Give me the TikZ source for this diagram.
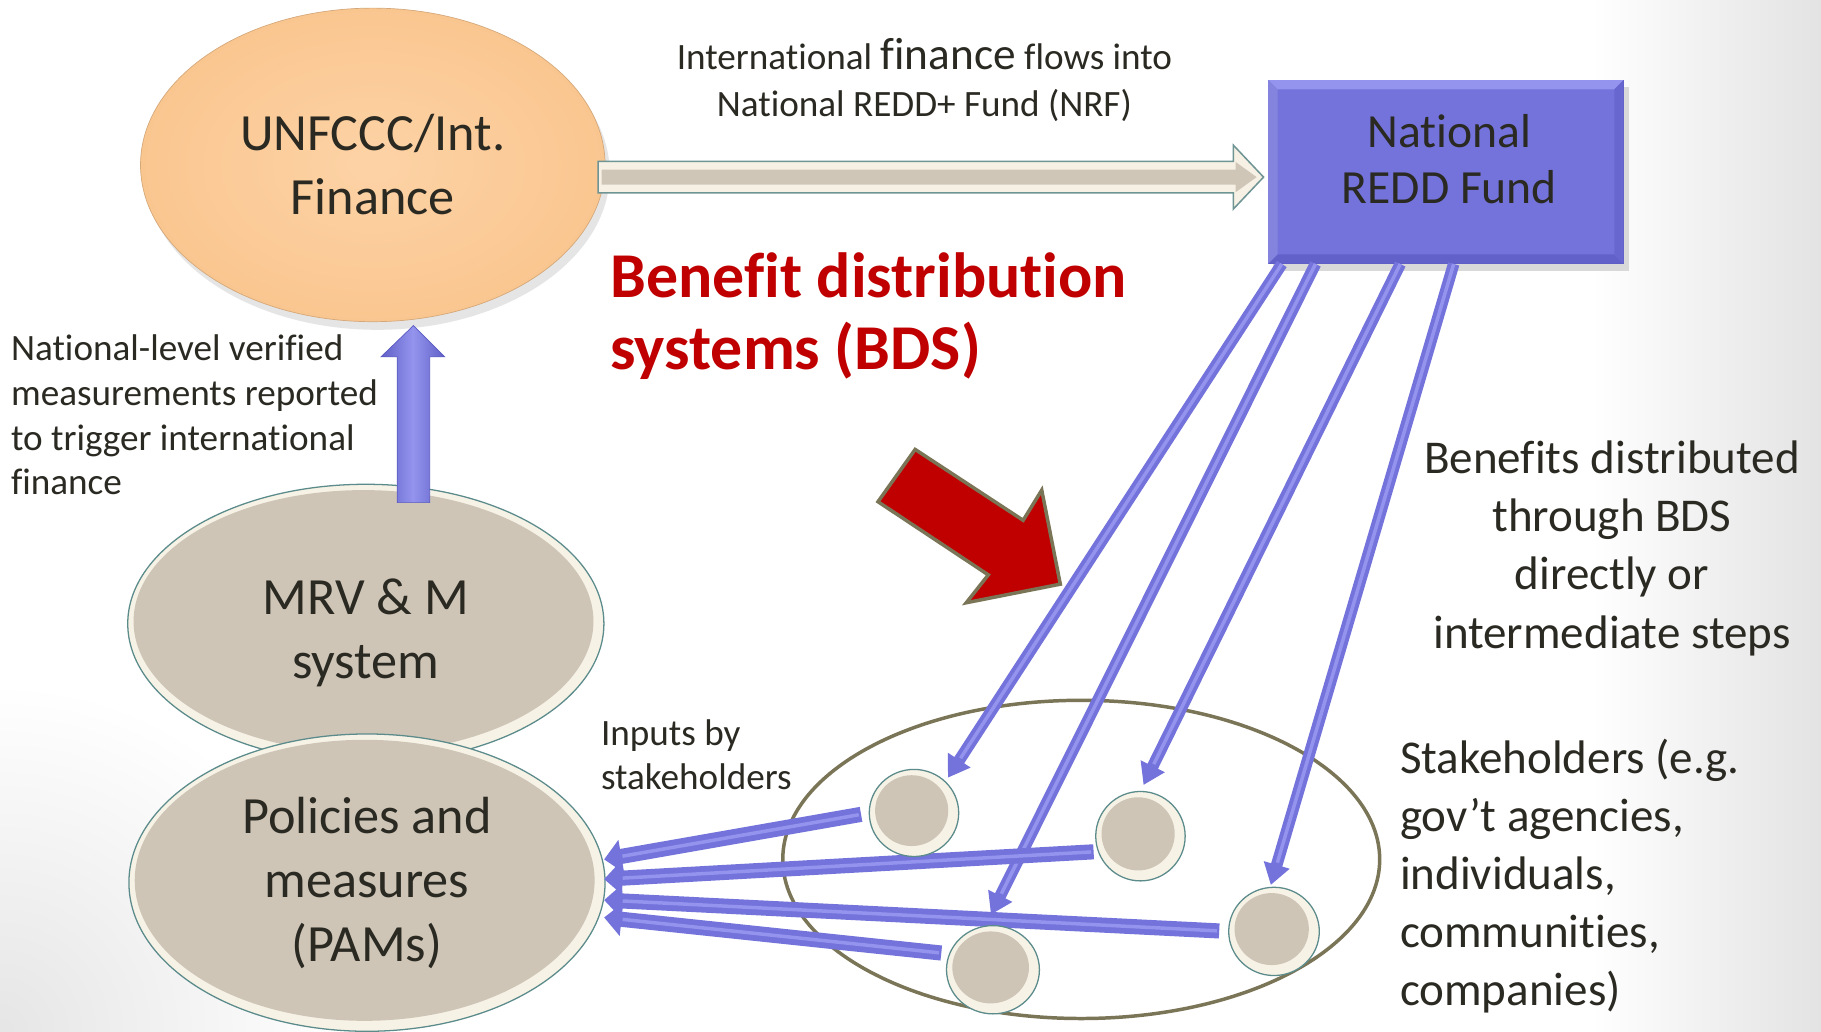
\documentclass[tikz,border=0pt]{standalone}
\usepackage{fontspec}
\setmainfont{Carlito}[Ligatures=NoCommon]
\usetikzlibrary{shapes.geometric,arrows.meta,calc}
\definecolor{txt}{HTML}{2A2922}
\definecolor{stan}{HTML}{CEC5B7}
\definecolor{rim}{HTML}{F7F2E6}
\definecolor{edgeteal}{HTML}{5B8B8B}
\definecolor{peachin}{HTML}{FDD3A6}
\definecolor{peachout}{HTML}{FAC690}
\definecolor{fundblue}{HTML}{7373DB}
\definecolor{fundlight}{HTML}{9494EE}
\definecolor{funddark}{HTML}{5A5AC2}
\definecolor{bdsred}{HTML}{C00000}
\definecolor{olivedge}{HTML}{7A7557}
\definecolor{cream}{HTML}{F7F0E4}
\definecolor{beige}{HTML}{CFC6B8}
\definecolor{arrowedge}{HTML}{6F9494}
\newcommand\bevelell[7]{%
  \fill[rim] (#2,#3) ellipse ({#4} and {#5});
  \fill[stan] ({#2-2},{#3-2}) ellipse ({#4-7} and {#5-7});
  \draw[edgeteal, line width=1.1pt] (#2,#3) ellipse ({#4} and {#5});
  \node[ellipse, inner sep=0pt, minimum width={2*#4}, minimum height={2*#5}, align=center, text=txt, font=#6] (#1) at (#2,#3) {#7};
}
\begin{document}
\begin{tikzpicture}[x=1pt,y=-1pt,
  distarrow/.style={line width=10pt, draw=fundblue, -{Triangle[width=22pt,length=18pt]}},
  inarrow/.style={line width=13pt, draw=fundblue, -{Triangle[width=28pt,length=15pt]}},
  hl/.style={line width=3pt, draw=fundlight},
  bigtxt/.style={font=\fontsize{45}{55}\selectfont, text=txt, align=center},
  smalltxt/.style={font=\fontsize{32}{38.5}\selectfont, text=txt},
  midtxt/.style={font=\fontsize{40.5}{50}\selectfont, text=txt}]
\useasboundingbox (0,0) rectangle (1568,888);
% background
\begin{scope}
\clip (0,0) rectangle (1568,888);
\fill[white] (0,0) rectangle (1568,888);
\shade[left color=white, right color=black!11] (1370,0) rectangle (1568,888);
\shade[inner color=black!10, outer color=white] (0,888) circle (300);
\end{scope}

% UNFCCC
\fill[black!10] (325,149) ellipse (200 and 135);
\node[ellipse, inner sep=0pt, minimum width=400pt, minimum height=270pt,
  inner color=peachin, outer color=peachout, draw=peachout!85!black, line width=0.6pt,
  bigtxt] (unf) at (321,142) {UNFCCC/Int.\\Finance};

% flow arrow UNFCCC -> fund
\coordinate (ba) at (515,152.5);
\coordinate (bt) at (1088,152.5);
\fill[cream, draw=arrowedge, line width=1.3pt]
  ($(ba)+(0,-13.5)$) -- ($(bt)+(-26,-13.5)$) -- ($(bt)+(-26,-27.5)$) -- (bt)
  -- ($(bt)+(-26,27.5)$) -- ($(bt)+(-26,13.5)$) -- ($(ba)+(0,13.5)$) -- cycle;
\fill[beige]
  ($(ba)+(3,-6.5)$) -- ($(bt)+(-24,-6.5)$) -- ($(bt)+(-24,-13)$) -- ($(bt)+(-6,0)$)
  -- ($(bt)+(-24,13)$) -- ($(bt)+(-24,6.5)$) -- ($(ba)+(3,6.5)$) -- cycle;

% National REDD Fund
\fill[black!15] (1096,75) rectangle (1403,233);
\node[rectangle, minimum width=306pt, minimum height=158pt, inner sep=0pt,
  fill=fundblue, draw=funddark, line width=0.6pt] (fund) at (1245,148) {};
\fill[fundlight] (1092,69) -- (1398,69) -- (1390,77) -- (1100,77) -- cycle;
\fill[funddark!70!fundblue] (1092,227) -- (1398,227) -- (1390,219) -- (1100,219) -- cycle;
\fill[fundblue!88!white] (1092,69) -- (1100,77) -- (1100,219) -- (1092,227) -- cycle;
\fill[funddark!50!fundblue] (1398,69) -- (1390,77) -- (1390,219) -- (1398,227) -- cycle;
\node[midtxt, font=\fontsize{41}{48}\selectfont, align=center] (fundtxt) at (1248,137) {National\\REDD Fund};

% captions
\node[smalltxt, anchor=base] (intl1) at (796,60) {International {\fontsize{39}{40}\selectfont finance} flows into};
\node[smalltxt, anchor=base] (intl2) at (796,100) {National REDD+ Fund (NRF)};
\node[font=\bfseries\fontsize{55}{62}\selectfont, text=bdsred, align=left, anchor=base west] (bds) at (522,318) {Benefit distribution\\systems (BDS)};
\node[smalltxt, align=left, anchor=base west] (mlab) at (6,426) {National-level verified\\measurements reported\\to trigger international\\finance};
\node[smalltxt, align=left, anchor=base west] (inlab) at (514,680) {Inputs by\\stakeholders};
\node[midtxt, align=center, anchor=base] (benlab) at (1388,558) {Benefits distributed\\through BDS\\directly or\\intermediate steps};
\node[midtxt, align=left, anchor=base west] (stklab) at (1202,866) {Stakeholders (e.g.\\gov’t agencies,\\individuals,\\communities,\\companies)};

% MRV and PAMs
\bevelell{mrv}{315}{537}{205}{120}{}{}
\node[bigtxt] (mrvtxt) at ($(mrv.center)+(0,8)$) {MRV \& M\\system};
\bevelell{pam}{316}{760}{205}{128}{\fontsize{45}{55}\selectfont}{Policies and\\measures\\(PAMs)}

% vertical arrow MRV -> UNFCCC
\coordinate (vb) at ($(mrv.north)+(41,16)$);
\coordinate (vt) at ($(unf.south)+(35,3)$);
\shade[left color=funddark!80!fundblue, right color=funddark!80!fundblue, middle color=fundlight, draw=funddark, line width=0.6pt]
  ($(vb)+(-14,0)$) -- ($(vt)+(-14,27)$) -- ($(vt)+(-28,27)$) -- (vt)
  -- ($(vt)+(27,27)$) -- ($(vt)+(14,27)$) -- ($(vb)+(14,0)$) -- cycle;

% stakeholder group
\draw[olivedge, line width=3pt] (931,740) ellipse (257 and 137);

% stakeholder circles (anchors)
\node[ellipse, minimum width=77pt, minimum height=75pt, inner sep=0pt] (s1) at (787,700) {};
\node[ellipse, minimum width=77pt, minimum height=77pt, inner sep=0pt] (s2) at (982,720) {};
\node[ellipse, minimum width=78pt, minimum height=76pt, inner sep=0pt] (s3) at (1097,802) {};
\node[ellipse, minimum width=80pt, minimum height=76pt, inner sep=0pt] (s4) at (855,835) {};

% distribution arrows
\coordinate (f1) at ($(fund.south west)+(12,0)$);
\coordinate (f2) at ($(fund.south west)+(41,0)$);
\coordinate (f3) at ($(fund.south west)+(114,0)$);
\coordinate (f4) at ($(fund.south west)+(160,0)$);
\draw[distarrow, shorten >=4pt] (f1) -- (s1.45);
\draw[distarrow, shorten >=11pt] (f2) -- (s4.100);
\draw[distarrow, shorten >=6pt] (f3) -- (s2.north);
\draw[distarrow, shorten >=2pt] (f4) -- (s3.95);
\draw[hl, shorten >=24pt] (f1) -- (s1.45);
\draw[hl, shorten >=31pt] (f2) -- (s4.100);
\draw[hl, shorten >=26pt] (f3) -- (s2.north);
\draw[hl, shorten >=22pt] (f4) -- (s3.95);

% input arrows
\coordinate (p1) at ($(pam.east)+(-1,-20)$);
\coordinate (p2) at ($(pam.east)+(-1,-3)$);
\coordinate (p3) at ($(pam.east)+(-1,15)$);
\coordinate (p4) at ($(pam.east)+(-1,30)$);
\draw[inarrow, shorten <=7pt] (s1.west) -- (p1);
\draw[inarrow, shorten <=4pt] (s2.200) -- (p2);
\draw[inarrow, shorten <=8pt] (s3.west) -- (p3);
\draw[inarrow, shorten <=7pt] (s4.160) -- (p4);
\draw[hl, shorten <=9pt, shorten >=16pt] (s1.west) -- (p1);
\draw[hl, shorten <=6pt, shorten >=16pt] (s2.200) -- (p2);
\draw[hl, shorten <=10pt, shorten >=16pt] (s3.west) -- (p3);
\draw[hl, shorten <=9pt, shorten >=16pt] (s4.160) -- (p4);

% stakeholder circles drawn
\bevelell{t1}{787}{700}{38.5}{37.5}{}{}
\bevelell{t2}{982}{720}{38.5}{38.5}{}{}
\bevelell{t3}{1097}{802}{39}{38}{}{}
\bevelell{t4}{855}{835}{40}{38}{}{}

% red pointer
\fill[bdsred, draw=olivedge, line width=3pt, line join=miter]
  (788,387) -- (881,448) -- (897,422) -- (913,503) -- (832,519) -- (851,495) -- (756,432) -- cycle;
\end{tikzpicture}
\end{document}
